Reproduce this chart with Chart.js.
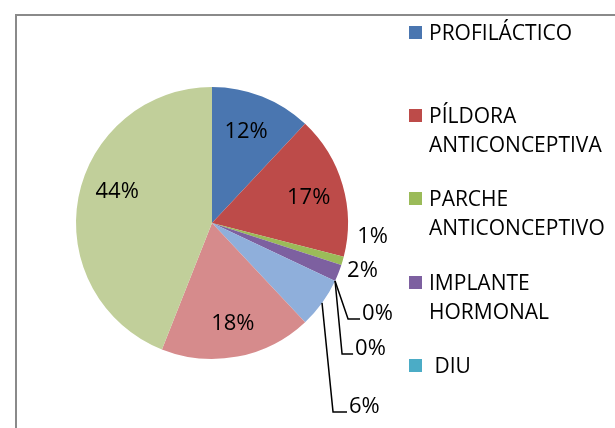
<!DOCTYPE html>
<html>
<head>
<meta charset="utf-8">
<script src="https://cdn.jsdelivr.net/npm/chart.js@4.4.0/dist/chart.umd.min.js"></script>
<style>
  html, body { margin: 0; padding: 0; background: #fff; }
  #wrap { position: relative; width: 615px; height: 428px; overflow: hidden; font-family: "Open Sans", sans-serif; }
  #frame { position: absolute; left: 15px; top: 14px; width: 700px; height: 500px;
           border-left: 2px solid #8a8a8a; border-top: 2px solid #8a8a8a; }
  #chart1 { position: absolute; left: 0; top: 0; }
  .item { position: absolute; left: 409px; width: 190px; font-size: 21px; line-height: 29px; color: #000; }
  .item .sw { position: absolute; left: 0; top: 8px; width: 13px; height: 13px; }
  .item .tx { margin-left: 20px; white-space: pre-line; }
</style>
</head>
<body>
<div id="wrap">
  <div id="frame"></div>
  <canvas id="chart1" width="615" height="428"></canvas>
  <div id="legend"></div>
</div>
<script>
// data
var categories = ['PROFILÁCTICO', 'PÍLDORA ANTICONCEPTIVA', 'PARCHE ANTICONCEPTIVO',
                  'IMPLANTE HORMONAL', 'DIU', 'INYECCIÓN', 'ÓVULOS', 'RITMO', 'NINGUNO'];
var percents = [12, 17, 1, 2, 0, 0, 6, 18, 44];
var colors = ['#4a76b0', '#bd4b49', '#9bbb59', '#7d60a0', '#4bacc6', '#f79646',
              '#8fafdb', '#d68b8c', '#c1cf9a'];
var shownInLegend = 5; // the rest of the legend is cut off in the picture

// label placement: 'in' = inside slice, otherwise offsets from the slice edge (px)
var labelSpots = [
  { mode: 'in', dx: -3, dy: 2 }, { mode: 'in', dx: 0, dy: 3 },
  { mode: 'out', dx: 30, dy: -24 },
  { mode: 'out', dx: 24, dy: -2 },
  { mode: 'line', edge: 'start', bend: [13, 38], end: [25, 38] },
  { mode: 'line', edge: 'start', bend: [7, 73], end: [18, 73] },
  { mode: 'line', edge: 'mid', bend: [11, 109], end: [25, 109] },
  { mode: 'in', dx: 2, dy: 2 }, { mode: 'in', dx: 4, dy: -12 }
];

var pieLabels = {
  id: 'pieLabels',
  afterDatasetsDraw: function(chart) {
    var ctx = chart.ctx;
    var arcs = chart.getDatasetMeta(0).data;
    ctx.save();
    ctx.font = '22px "Open Sans"';
    ctx.fillStyle = '#000';
    ctx.strokeStyle = '#000';
    ctx.lineWidth = 1.5;
    arcs.forEach(function(arc, i) {
      var p = arc.getProps(['x', 'y', 'startAngle', 'endAngle', 'outerRadius'], true);
      var spot = labelSpots[i];
      var txt = percents[i] + '%';
      var mid = (p.startAngle + p.endAngle) / 2;
      if (spot.mode === 'in') {
        ctx.textAlign = 'center';
        ctx.textBaseline = 'middle';
        var r = p.outerRadius * 0.74;
        ctx.fillText(txt, p.x + Math.cos(mid) * r + spot.dx, p.y + Math.sin(mid) * r + spot.dy);
      } else if (spot.mode === 'out') {
        var ex = p.x + Math.cos(mid) * p.outerRadius;
        var ey = p.y + Math.sin(mid) * p.outerRadius;
        ctx.textAlign = 'center';
        ctx.textBaseline = 'middle';
        ctx.fillText(txt, ex + spot.dx, ey + spot.dy);
      } else {
        var a = spot.edge === 'start' ? p.startAngle : mid;
        var sx = p.x + Math.cos(a) * p.outerRadius;
        var sy = p.y + Math.sin(a) * p.outerRadius;
        ctx.beginPath();
        ctx.moveTo(sx, sy);
        ctx.lineTo(sx + spot.bend[0], sy + spot.bend[1]);
        ctx.lineTo(sx + spot.end[0], sy + spot.end[1]);
        ctx.stroke();
        ctx.textAlign = 'left';
        ctx.textBaseline = 'alphabetic';
        ctx.fillText(txt, sx + spot.end[0] + 2, sy + spot.end[1] + 1);
      }
    });
    ctx.restore();
  }
};

var graph = document.getElementById('chart1');

var myChart = new Chart(graph, {
  type: 'pie',
  data: {
    labels: categories,
    datasets: [{
      data: percents,
      backgroundColor: colors,
      borderWidth: 0
    }]
  },
  options: {
    responsive: false,
    animation: false,
    layout: { padding: { left: 76, right: 267, top: 87, bottom: 69 } },
    plugins: {
      legend: { display: false },
      tooltip: { enabled: false }
    }
  },
  plugins: [pieLabels]
});

// legend on the right
var legend = document.getElementById('legend');
for (var i = 0; i < shownInLegend; i++) {
  var item = document.createElement('div');
  item.className = 'item';
  item.style.top = Math.round(18 + i * 83.2) + 'px';
  var tx = categories[i] === 'DIU' ? '\u00a0DIU' : categories[i];
  item.innerHTML = '<span class="sw" style="background:' + colors[i] + '"></span>' +
                   '<div class="tx">' + tx + '</div>';
  legend.appendChild(item);
}
</script>
</body>
</html>
